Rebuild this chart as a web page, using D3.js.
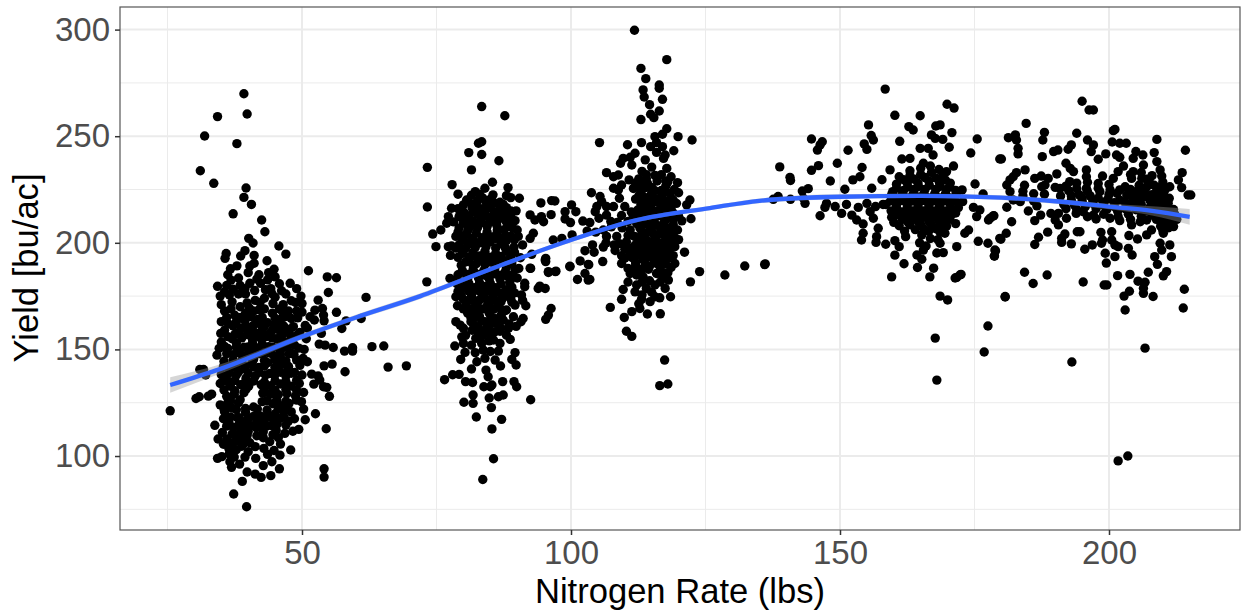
<!DOCTYPE html>
<html>
<head>
<meta charset="utf-8">
<script src="https://cdnjs.cloudflare.com/ajax/libs/d3/7.8.5/d3.min.js"></script>
<style>
  html, body { margin: 0; padding: 0; background: #fff; }
  svg { display: block; font-family: "Liberation Sans", Arial, sans-serif; }
</style>
</head>
<body>
<div id="chart"></div>
<script>
// [rate, yield], one list per application cluster
const field40 = [
  [39.2,269.9],[34.3,259.2],[39.8,260.4],[31.9,250.1],[37.9,246.5],[31.1,233.8],[33.6,227.9],[39.6,225.7],[39.2,221.3],[40.6,218],
  [37.2,213.6],[42.5,210.7],[43.1,205.2],[40.1,202.1],[40.9,199.9],[45.7,198.5],[47,194.7],[35.9,195],[35.7,192.7],[39.4,196.3],
  [38.6,193.8],[41.1,194.1],[43.5,191.6],[41.1,190.4],[40.3,189.1],[37.9,189.2],[36.7,187.8],[44.8,187.6],[51.2,186.9],
  [54.7,184],[56.4,183.6],[54.9,176.7],[61.9,174.4],[49.8,175],[53,173.1],[52.4,168.4],[53.8,169.2],[54,166.1],[54.1,163.4],
  [56.4,167.4],[51.5,165.3],[52.3,163.8],[58.2,163.4],[61,164.5],[57.4,159.8],[53.6,157.5],[53.2,152.5],[54.3,152],[55.8,150.9],
  [57.9,149.2],[59.4,150.8],[59.4,149.2],[63,151.3],[65.2,151.6],[66,141.7],[69.4,142.3],[58,139.5],[54.1,142.3],[55.6,143.1],
  [50.2,145.8],[51,144.2],[51.8,138.4],[53,137.5],[53.3,135.6],[52.2,133.7],[54,132.5],[54.6,132.2],[55.1,128],[52.5,119.8],
  [54.5,112.8],[54.1,94],[54.1,90.1],[38.9,88.1],[37.3,82.2],[39.7,76.2],[25.5,121.2],[30.3,127],[30.9,127.8],[32.6,128.1],
  [33.2,129],[31,140.6],[31.7,140.6],[32.1,138],[34.2,147.3],[33.8,114.4],[34.3,98.9],[35.1,99.7],[36.9,94.7],[36.6,97.3],
  [41.3,91.5],[42.4,90],[44.2,90.8],[45.8,94],[44.4,97.3],[42.8,95.5],[41.4,98.9],[45.9,100.4],[47.9,102.8],[48.3,111.6],
  [46.8,110.6],[45.6,108.6],[44,106.7],[42.8,108.6],[41.6,109.5],[42.9,103.6],[41.3,104.4],[40.3,106.2],
  [36.2,185],[38.2,183.5],[40,186],[42,185],[43.8,186],[45,184],[34.3,179.6],[36,180],[38.5,180],[40.3,181],[42.3,181],[44.2,178.5],
  [47.8,181],[49,178.5],[47,176],[36.5,175.5],[38.2,176],[39.5,176],[45,174.5],[46.5,171],[43,174],[41.3,173],[35,171],[35.6,168],
  [36,165],[38.5,170],[39.5,167],[37.5,166],[41,168],[43,169],[44.5,167],[47.5,168],[49,168],[48,164.5],[50,167.5],[46,164],
  [36.3,162],[35.6,159],[36.2,156],[37.8,163],[38.7,160],[37.5,157],[39.4,163.5],[40.6,160.5],[39.8,157],[41.7,164],[42.5,161],[41.6,157.5],
  [43.6,162.5],[44.5,159],[43.3,156],[45.5,160.5],[46.8,157.8],[45.2,155],[47.7,159.5],[49,156.5],[47,153.5],[48.6,152],[35,153.5],[36.2,150.5],
  [37.8,153],[37.2,147.5],[39.2,151],[39,147],[40.8,153],[41,149],[42.6,152.5],[43,148.5],[44.6,151],[44.8,147],[46,149.5],[47.6,148],
  [48.5,147.7],[46.3,145],[35.5,144.5],[36.5,142],[38,143],[39.4,141],[40.7,144],[42,141.5],[43.6,143.8],[45,141.5],[46.2,143],[47.4,141],
  [48.6,139.2],[47,137.5],[44.9,137.8],[43.2,138],[41.3,137.5],[39.6,136.5],[37.8,138],[36,136],[35,138.2],[34.8,134],[36.7,132.7],[38.6,133.5],
  [40.1,132.8],[42.4,133.5],[44.2,133],[46,133.8],[48,132.8],[49.5,134],[50.3,129.8],[48.8,128.2],[47.2,129.2],[45.6,128.8],[44.1,129],[42.7,129.5],
  [39.2,129.7],[37.4,129],[36,128],[36.2,125],[37,122.5],[35.6,120.8],[38.2,125],[39.5,120.5],[41,123],[42.6,125.5],[44.6,124.5],[46,123.5],
  [47.6,124.7],[49.9,125.5],[50.3,122],[48,120.7],[46.6,118.5],[45,119.8],[43.6,119.5],[42.2,118.8],[41,118.6],[39.6,116.5],[38,118],[36.4,116],
  [37.3,113.5],[35.2,111],[36,108],[37.5,110],[39,112],[40,114],[41.5,113.3],[43.4,114],[45.4,115],[47,114.5],[45.2,112],[38.4,107],[36.9,105.4],[35.4,105.5],
  [37.8,103],[38.8,104.6],[36.5,101],[37.4,99.5],
  [37.2,178.2],[41.2,177.6],[43.2,178],[37,172.3],[39.8,171.8],[42.2,172],[44.6,171.5],[36.8,169],[40.2,169.4],[42,168.6],[45.8,169],[46.4,167.6],
  [38.6,165],[40.5,165.4],[42.6,165],[45,164.6],[46.7,165.2],[49.2,164.8],[37.2,161],[39.6,160.6],[41,161.3],[43,160.8],[44.8,161.2],[46.6,161],[48.4,160.7],[50.6,161.2],
  [38.3,158],[40.6,157.8],[42.6,158.2],[44,157.6],[46,158.2],[47.6,157.8],[49.6,158],[37,155],[38.8,155.4],[40.8,154.8],[42.4,155],[44.4,155.4],[46.2,154.7],[48,155.2],
  [35.6,151.4],[37.8,151],[40,151.2],[41.8,150.7],[43.8,151.3],[45.6,150.8],[47.3,151.2],[49.4,150.6],[36,148],[38.2,148.4],[40,147.8],[42,148],[44,148.3],[46,147.6],[48,148.2],
  [37.2,145],[38.8,144.7],[41,145.3],[43,144.8],[45,145.2],[47,144.6],[49,145],[35.4,142],[37.4,141.6],[39.4,142.3],[41,141.8],[43,142.2],[45,141.7],[47.5,142],
  [36.4,139],[38.2,139.4],[40,138.8],[42,139.2],[44,138.7],[46,139.3],[48,138.8],[36,135],[37.5,135.4],[39.5,134.8],[41,135.2],[43,134.7],[45,135.3],[47,134.9],[49,135.5],
  [35.5,131],[37.5,130.6],[39.6,131.3],[43,131],[45,130.7],[47,131.2],[49,130.8],[36.7,126],[38.5,126.4],[43.5,126],[45.3,126.3],[47,125.7],[49,126.2],
  [35.5,122],[37.8,121.7],[39.5,122.3],[41.7,122],[43.5,121.6],[45.6,122.2],[47.3,121.8],[36.7,118.3],[38.3,118],[40,117.6],[42.6,118],[44.3,118.2],[46,117.7],
  [36,114],[38.4,113.7],[40.6,114.2],[42.4,114],[44.3,114.3],[37,110.3],[38.3,110],[39.8,109.6],[37.2,106.3],[39.2,106],
  [35.6,177],[34.8,175],[36.8,182.5],[39.4,178.5],[41.6,183],[43.6,182.6],[45.8,180.8],[46.2,177.5],[48,172.8],[50,171.5],[48.8,172],[44.4,176.2],[35,163],[34.9,157.5],[34.6,150.5],
  [50.8,155],[51,160],[50.4,150],[49.6,142.5],[50,138],[35.4,117.5],[34.8,124],[34.4,108],[50.6,117],[48.6,117.5],[49.4,112.5],[46,105.6],[44.8,102.6],[43.6,100.8],[40,102],
  [39.4,99.5],[38.4,96.2],[39.8,92.5],[38.4,115.5],[40,111.5],[41.6,116],[43,116.4],[44.8,117],[46.6,121],[47.5,116.5],[42.8,111.4],[44.6,110],[39.5,108.4],[36.4,103.5]
];

const field85 = [
  [83.4,263.9],[87.7,259.6],[83.4,247.4],[82.8,246.7],[81,242.3],[83.4,241.4],[86.6,238.5],[81.5,234.2],[73.3,235.4],[73.3,216.8],
  [77.9,227.3],[79,222.8],[85.4,228.4],[88.3,225.9],[88,222.1],[88.8,221.2],[90.4,220.9],[82.2,224],[84,225.6],[80.6,220.1],
  [80,217.8],[77.8,216.2],[77.2,212.3],[76.9,209.2],[75.8,206],[74.3,204.1],[74.9,198.2],[77.2,198.2],[77.8,198.5],[77.6,194.1],
  [94.4,218.7],[96.4,219.8],[97,219.6],[92.4,213.1],[93.3,210.7],[94.5,212.3],[94.9,209.9],[96.3,213.2],[93,204.5],[92.4,202.1],
  [96.7,201.3],[98.3,202.1],[92.7,194.6],[95.3,192.7],[95.3,191.2],[92.4,188.1],[97.1,186.5],[95.8,186.5],[73.2,181.7],[77.5,183.3],
  [78.6,174.7],[78.9,170.5],[78.6,163],[79.4,161.4],[80,159.9],[79.7,155.9],[80,152.8],[78.4,151.6],[80.3,148.6],[79.5,145.3],
  [76.5,135.8],[78,138.1],[79.2,138.3],[80.4,134.9],[81.7,134.5],[81.8,128.6],[80.1,125.2],[81.8,124.7],[82.4,118.3],[85.2,122.7],
  [87.1,117.2],[85.3,112.7],[85.6,98.7],[83.6,89],[84.8,127.2],[86.5,127.8],[87.4,128.6],[92.5,126.4],[89.9,132.5],[89.4,134.9],
  [87.3,134.9],[83.8,132.5],[85,132.5],[85.3,133.3],[84.6,137.2],[84.2,140.3],[81.5,140.8],[82.5,144.2],[84,145.8],[85.9,145],
  [86.9,142.2],[89.8,142.7],[89,145.3],[89.6,148.5],[83.7,149.7],[83.4,152.8],[88,156.7],[88.7,154.7],[86.8,152.8],[85.6,154.4],
  [82.3,155.2],[85.9,158.3],[84,159.1],[82.8,159.9],[86.1,162.2],[83.4,163.3],[90.7,163],[91.1,164.5],[89.3,165.3],[95.3,164.1],
  [95.8,166.1],[96.3,169.2],[91.6,170.5],[89.6,170.8],[88,168.5],[93.9,178.6],[94.2,179.7],[95.2,178.6],[91.4,181],[90.8,175.5],
  [91.4,179.4],[95.8,186.1],[97.2,186.7],[95.2,191.9],[92.5,188],
  [80.2,214],[82,218],[83.6,221],[85.5,222.5],[86.8,219],[84.4,217],[80.8,211],[82.5,213.5],[86,214.5],[88,216.5],[89.8,215],[87.5,212],
  [79.2,207],[81.2,207.5],[83.4,209.5],[85,210],[88.8,209],[90,206],[78.6,203],[80.2,203.5],[82.4,204.5],[84.4,205],[86.3,206],[87.8,203.5],
  [89.5,201.5],[91,199],[79.2,199],[81,199.5],[83,200],[85,200.5],[87,199.5],[79.8,195],[81.8,195.5],[84,196],[86,195],[88,196],[89.5,195.5],
  [90.6,193],[81,191.5],[83,192],[85,191],[87,191.5],[89,190.5],[90.3,188],[79.8,187],[81.8,187.5],[83.8,187],[85.8,187.5],[87.8,186.5],
  [89.2,185],[78.8,183],[80.8,183],[82.8,183.5],[84.8,183],[86.8,183],[88.6,181.5],[90,183.5],[80,179],[82,179],[84,179.5],[86,179],[88,178],[89.5,176.5],
  [79.6,175.5],[81.5,175],[83.5,175.5],[85.5,175],[87.3,174],[80.5,171],[82.5,171],[84.5,171],[86.5,170.5],[80.8,167],[82.6,167.5],[84.8,167],[87,166],
  [81.4,163],[85,163.5],[81.6,159],[86.8,158.5],[89.8,160.8],[88.5,162],[81.5,152],[82.2,148.5],[85,149],[86.5,149.2],
  [81.5,222.3],[83,222.8],[85,220.4],[81,219.2],[82.6,219.6],[84.2,219],[85.8,218.6],[87.4,218],[79,216],[81.6,216.4],[83.2,216],[85,216.4],[86.8,216],[88.8,215],
  [79.2,212.3],[81,212.6],[84,212.5],[85.5,212.8],[87,213.5],[88.8,212.6],[78.2,209.8],[80,209.5],[81.8,210],[83.2,211],[86.4,210.6],[88,209.8],[89.6,210.4],
  [79,205],[80.8,205.6],[82.6,207],[84.4,207.6],[86.2,208.2],[87.6,206.2],[89.2,206.8],[79.8,201.2],[81.6,202],[83.5,202.4],[85.4,202.6],[87.2,201.6],[88.8,203],[90.2,203],
  [78.6,197.5],[80.4,197.4],[82.2,197.8],[84.2,198.2],[86,197.6],[87.8,197.6],[89.4,198],[79,193.2],[81,193.4],[83,193.8],[85,193.2],[87,193.6],[88.8,193.2],
  [79.6,189.5],[81.8,189.5],[84,189.8],[86,189.2],[88,188.6],[89.6,187.5],[79,185],[80.8,185.2],[83,185.2],[85,185.2],[87,184.8],[88.8,183.5],[78.8,180.8],[81,181],[83,181.2],
  [85,181],[87,180.6],[89,179.2],[79,177.2],[81,177.3],[83,177.4],[85,177.2],[87,176.4],[88.8,173.8],[91,173],[81,173],[83,173.2],[85,173],[87,172.4],[89,172.2],
  [80,169],[81.8,169.2],[83.6,169],[85.6,168.8],[87.6,168],[81.4,165],[83,165.4],[85.2,165],[87.4,163.8],[82,161.5],[84.8,161],[80.4,156.6],[83.6,156.5],[84.8,154],
  [80,213],[82,215],[84,214],[86,212.4],[88,214.2],[80.6,208.6],[82.4,208.8],[84.4,208.2],[86.2,204.2],[88.2,207.6],[80,201.4],[82,200.8],[84,201.6],[86,202],[88,201],[80,196.8],
  [82,194],[84,194.6],[86,193],[88,191.6],[80.4,191],[82.4,190.2],[84.2,192.2],[86.2,190.6],[80.6,184.6],[82,186],[84,184.8],[86,185.4],[88,184.6],[80,181.4],[82,177.6],[84,178],
  [86,177],[88,176],[80,173.4],[82,172.8],[84,174],[86,173],[81,167.5],[83,169],[85,169.8],[87,168.8],[82,165],[84,163],[86,164.4],[88.4,160],[87,160],[83,157.6],[85,157]
];

const field115 = [
  [99.8,188.8],[101.7,191.5],[103.2,189.9],[102.6,196.3],[104,199],[104.3,195.6],[105.9,191.2],[103.8,223.5],[105.4,221.7],[105.7,219.3],
  [104.8,217],[104.5,214.6],[105.2,211.5],[106.6,217],[107.9,217],[106.6,213],[109,220.9],[110,217],[109.4,212.8],[112.4,215.4],
  [98.9,214.6],[98.9,211.2],[100.1,217.8],[100.9,214.6],[99.9,209.5],[102.2,210.2],[103.5,209.5],[100.2,203.7],[101.2,182.8],[102.6,185.6],
  [103.2,182.5],[103.5,182.8],[99.8,189],[103.3,189.7],
  [111.8,299.7],[117.8,285.9],[113,281.8],[113.9,277],[116.4,274],[116.4,272.5],[113.4,271.7],[113.6,268.4],[117,267.3],[114.6,264.8],
  [116.4,261.8],[114.8,260.3],[115.4,258.7],[113,257.8],[117.8,253.5],[117,250.9],[115.6,249.8],[119.9,249.8],[122.5,248.2],[105.3,247],
  [110.5,246],[113.1,247],[114.8,245.1],[115.9,247],[117,245.1],[119.1,243.2],[111.9,242],[115.9,242.4],[117.5,241.2],[117.2,239.6],
  [113.8,238.9],[109.7,239.6],[109.2,237.3],[111,240.1],[111.3,236.5],[106.6,232.9],[108.8,231.8],[107.9,231],[117.8,234.9],[110.8,229.5],
  [107.9,225.6],[108.8,224.8],[109.4,227.1],[119.8,228.2],[120,223.5],[122.1,220.1],[121.5,217.8],[122.3,211.3],[120.6,210.3],[121.1,195.6],
  [123.9,186.5],[119.3,198.2],[122.2,181.7],[118.5,174.7],[116.5,174.2],[117.5,178.6],[109.7,178.1],[109.4,173.5],[107.3,169.7],[109.9,165],
  [111.3,167.7],[112.8,169.2],[113.1,173.5],[114.2,166.6],[116.6,166.7],[110.3,158.5],[111.3,156.1],[117.4,145],[116.5,133],[118,133.8],
  [114.7,172.4],[115.6,174.7],[112.2,180.2],[111.9,177],[114,178.6],[115.6,180.2],[118.1,182.5],[115.9,185.6],[112.2,184.9],[111,185.6],
  [109.4,190.3],[115.9,190.3],[119.3,190.3],
  [113.2,233.5],[115,235.5],[116.8,232],[118.6,231],[112.6,230],[114.2,228],[116,229],[117.6,226.5],[119.2,225],[111.6,225.5],[113,224],[115,223.5],
  [117,222.5],[118.6,221],[112,220.5],[114,219.5],[116,219],[118,218],[119.6,218.5],[113.4,216],[115.2,215],[117.2,214.5],[119,214],[111.5,211.5],
  [113.4,211],[115.4,210.5],[117.4,210],[119,208.5],[112.8,207],[114.8,206.5],[116.8,206],[118.6,204.5],[111.8,203],[113.6,202.5],[115.6,202],[117.6,201.5],
  [112,199],[114,198.5],[116,198],[118,197.5],[120,201.5],[110.3,200.5],[111,195.5],[113,194.5],[115,194],[117,193.5],[119,194],[110,192.8],[112,190.5],
  [113.8,190],[117.5,190],[109.4,194],[108,199],[108.5,203],[106.5,200],[109.5,207],[107.5,207.5],[111.2,214.5],
  [114,232],[117.6,229],[113,227],[115,226],[116.8,224.5],[118.4,223.2],[112.6,222],[114.6,221.4],[116.4,220.8],[118.2,219.6],[113,218],[114.8,217.4],[116.8,216.8],[118.6,216],
  [112.4,213.6],[114.4,213],[116.2,212.6],[118.2,212],[120,212.4],[112.2,209],[114.2,208.6],[116.2,208],[118,206.8],[119.8,206],[111,206],[113.2,205],[115.2,204.4],[117.2,203.8],
  [119.2,202.6],[110.6,203.4],[112.8,200.8],[115,200.2],[117,199.6],[118.8,199.6],[110.4,197.8],[112.4,196.8],[114.4,196.2],[116.4,195.8],[118.2,195.6],
  [111.4,193],[113.4,192.2],[115.4,192],[117.4,191.8],[118.6,188.4],[116.6,187.6],[114.4,187.6],[112.6,187.6],[110.6,188],[113.4,184],[117,184.6],[114.6,182.2],[116.6,181.6],[113.2,181.6],
  [110.6,181.6],[113.2,175.6],[115,176.8],[112.6,171.4],
  [114,230],[115.6,231.6],[112,228],[118,228.6],[113.8,225.8],[115.6,224.4],[117.4,224.2],[113.6,221.4],[115.4,220.6],[117.2,219.8],[119,220],[114,216],[116,214.8],[118,215.6],[113,213],[115.2,212],
  [117.2,212],[119,211],[113.4,208.6],[115.4,208],[117,207.6],[114,204.6],[116,203.8],[118,203],[112.4,202],[114.4,200.6],[116.4,200],[118,199.4],[111.6,198],[113.4,197.4],[115.4,197],[117.4,196.4],
  [112,193.6],[114.4,193.4],[116.4,193],[118,192.6],[112,189],[114.6,189],[116.6,189.6],[118,186],[111.4,186.8],[113,186.6],[110,197],[109,199.6],[108.2,196.4],[106.6,203],[106,206],[107.4,210],
  [108.6,209.6],[110.6,210],[106,198],[104.6,205],[103,205.5]
];

const field165 = [
  [128.6,184.9],[132.3,189.1],[136.1,190.1],[136,189.8],
  [158.4,272.1],[169.9,265],[171.2,263.2],[160.2,259.8],[164.9,259.6],[155.3,255.3],[162.8,254.5],[163.6,252.9],[167.8,254.8],[168.6,255.3],
  [170.8,251.7],[167,250.6],[167.7,249],[169.1,248.5],[175.5,248.7],[155.8,250.3],[156.2,248.2],[144.7,248.7],[146.7,247.4],[146.3,245.9],
  [145.8,243.5],[154.5,246.4],[155,243.8],[151.5,243.4],[161.1,247.6],[164.9,244.3],[166.4,244.3],[170.3,244.8],[174.3,242.1],[179.7,239.3],
  [167.3,241.2],[138.8,235.6],[140.7,230.7],[140.8,229.2],[146,236.2],[144.7,234],[149.5,237.3],[154.1,235.3],[153.7,231],[152.4,229.5],
  [148.2,229],[157.8,229.6],[159.3,234.2],[161.5,239.3],[163,239.6],[165.5,237.3],[171.1,236],[169.8,233.4],[175.1,227.6],[172.7,224.8],
  [144.1,225.4],[143,224.3],[150.9,225.1],[155.9,225.6],[176.6,222.9],[137.6,220.4],[138.5,221.7],[140.8,220.4],[143.5,218.5],[143.2,220.9],
  [147.5,218.5],[147.2,216.6],[146.3,212.7],[149.1,217],[150.3,213.8],[151.2,218],[152.2,213],[153.1,210.7],[153.4,216.6],[155,218.5],
  [155.6,214.6],[156.2,211.5],[154.3,208.8],[154.3,204.5],[154,201.3],[157.1,206.8],[156.8,202.9],[156.7,200.2],[158.5,199.3],[160.2,201],
  [161,198.2],[162.2,202.9],[160.2,194.2],[161.9,190.2],[159.6,184],[164.4,188.4],[167.4,188.1],[166.7,184],[171.7,183.8],[172.5,185.2],
  [164.3,194.3],[165.5,196.6],[165.2,192.3],[168,195.2],[169.2,195.4],[171.7,198.2],[168.6,199.8],[169.5,204.5],[165.2,203.7],[175.7,200.7],
  [177.5,199.8],[178.9,196.2],[178.7,193.8],[179.7,202.1],[173.9,206],[173.2,204.5],[177.6,210.7],[178.6,212.7],[174.8,216.6],[176,215.4],
  [175.4,212.3],[172.8,219.3],[170.4,211],[167.7,155.3],[168,135.6],[168.6,175],[170,173.2],[172.3,184.9],[171.4,183.5],[177.5,161],
  [176.8,148.8],[180.7,174.6],
  [161,231],[163,231.5],[165,232],[167,233],[169,231],[160.5,227.5],[162.5,228],[164.5,228],[166.5,229],[168.5,228],[170.5,228],[159.8,224],
  [161.8,224.5],[163.8,225],[165.8,225],[167.8,225],[169.8,225],[171.5,224.5],[160.5,221],[162.5,221],[164.5,221.5],[166.5,221],[168.5,221],[170.5,221],
  [158.5,218],[160.5,218],[162.5,218],[164.5,218],[166.5,218],[168.5,218],[170.5,218],[172,216.5],[159.5,215],[161.5,214.5],[163.5,215],[165.5,215],
  [167.5,215],[169.5,215],[171.5,214],[159.6,212],[161.6,211],[163.5,211.5],[165.5,212],[167.5,212],[169.5,211.5],[161,208],[163,208.5],[165,208.5],
  [167,208.5],[169,208],[162,205.5],[166.5,205.5],[168.6,205],[166.8,202],[158,218],[156.6,217],[164.8,200],[166,198.5],[168.2,201.5],
  [161.8,229.6],[163.8,229.8],[165.8,230.6],[167.8,230.4],[169.6,229.4],[166.8,236],[168.4,234.4],[165,235],[163,233.8],[160.5,225.6],[162.6,226.2],[164.6,226.4],[166.6,227],[168.6,226.4],
  [170.4,226.4],[159.6,222.6],[161.6,222.8],[163.6,223],[165.6,223.2],[167.6,223],[169.6,223],[171.6,222.6],[159.4,219.6],[161.4,219.8],[163.4,219.6],[165.4,219.8],[167.4,219.6],
  [169.4,219.6],[171.4,219.6],[160.5,216.5],[162.5,216.5],[164.5,216.6],[166.5,216.4],[168.5,216.6],[170.6,216.2],[160.6,213.2],[162.6,213],[164.5,213.4],[166.5,213.4],[168.5,213.2],[170.6,212.8],
  [162.6,209.8],[164.5,210],[166.5,210.2],[168.5,209.8],[160,209.6],[164,206.2],[167.8,206.6],[165.6,206.6],[169.8,207.8],[171.5,209]
];

const field200 = [
  [195,266.4],[196.3,262.3],[197.1,262.3],[184.6,256],[201.1,253.2],[200.8,252.6],[188,251.8],[187.7,248.2],[182.6,250.6],[181.3,249.3],
  [182.8,248.2],[194,251.4],[196,248.2],[197.1,245.9],[196.7,242.8],[200.6,247.3],[202,246.7],[203.2,246.7],[208.9,248.5],[193,245.9],
  [192.4,243.9],[183.1,244.3],[183.1,241.7],[190.5,243.5],[189.7,242.8],[187.6,240.4],[180,239.3],[214.2,243.4],[201.4,241.2],[202,240.1],
  [199.4,241.7],[198,239.2],[205,242.8],[204.5,239.6],[206.3,241.2],[208.4,242.3],[192,237.3],[192.8,234.9],[193.4,233.4],[195.8,234.2],
  [195.8,231],[198.8,231.3],[184.4,234.2],[182.8,232.9],[182.2,231],[181.6,229.5],[181,227.1],[181.6,224],[186.2,230.2],[187.4,231.3],
  [188.7,230.2],[190.3,232.3],[184.3,227],[187.5,226.3],[188.1,227.1],[213.6,232.9],[212.9,229.5],[213.5,225.9],[214.7,222.4],[215.2,222.4],
  [211.3,226.3],[210.4,224.8],[211.2,220.9],[200.8,230.2],[201.7,233.4],[202.7,236],[204.5,233.4],[204.2,230.2],[206.4,236.5],[206.1,230.2],
  [208.9,238.1],[209.5,234.2],[209.8,231.3],
  [190.9,225.5],[192.7,228.7],[194,228],[195.8,225.5],[198.3,224],[200.2,224.8],[203,226.3],[201.5,223.2],[203.3,222.4],[206.4,224.8],[207.6,228],[208.9,224.8],
  [210.1,223.2],[206.4,221.6],[207.6,220],[205.1,220],[192.5,224.5],[194.5,222.5],[196.5,222],[198,221],[199.8,220.5],[202,220],[204,218.5],[206,218],[208,218],
  [209.5,219],[210.5,217],[193,220],[195,219.5],[197,218.5],[199,217.5],[201,217],[203,216],[205,215.5],[207,215],[209,215],[211,214],[212.2,213.5],
  [181,216.7],[178.5,212.6],[177.9,211.5],[181.9,209.9],[185,214.9],[186.6,217.3],[183.5,219.3],[182.2,220.1],[186.2,210.4],[187.3,213],[189.2,213.8],[190.6,213.8],
  [190.6,208.4],[190,210.7],[192.1,211.5],[193.9,213.8],[195.2,214.6],[197.1,213],[197.6,211.2],[200.2,211.5],[201.7,212.3],[204.2,208.4],[205.8,209.9],[207,210.7],
  [208.8,211],[210.5,211],[211.5,209.5],[180.9,204.5],[179.9,201.7],[188.6,205],[186.9,202.6],[186.2,199.2],[191.8,204.1],[191.2,202.1],[191.2,200.2],[193,199.5],
  [194.1,205.2],[194.6,205.2],[196.9,199],[195.5,197],[198.5,204.9],[198.8,201.3],[198.6,199.8],[199.3,195.1],[200.5,205.2],[200.5,201.3],[201.1,199],[201.7,198.2],
  [201.1,193.5],[199.5,190.5],[203.7,203.4],[205.3,201.8],[207,203.7],[207.9,206],[203.6,197.4],[204.3,194.3],[209.5,199.8],[211.3,199],[209.8,196.6],[208.5,193.5],
  [211.6,193.5],[209,189.9],[210,209.2],[210.1,204.5],[207.3,186.2],[210.7,186.5],[210.1,184.5],[203.9,185.2],[201.6,184.6],[205.4,182],[206.7,181.5],[206.4,178.7],
  [206.4,176.3],[203.8,177.3],[199.1,180.2],[199.6,180.2],[195.2,181.6],[184.3,186.2],[185.9,180.9],[188.5,184.9],[180.7,174.8],[208.2,174.8],[214,178.2],[178.8,196.6],
  [178.7,193.8],[193.1,144.1],[206.7,150.6],[201.7,97.7],[203.5,100],[203,168.5],[213.8,169.4],[202.8,175],
  [205.6,227],[207,226.2],[208.4,227],[209.8,226.6],[205,224],[206.6,223.4],[208,222.6],[209.4,222],[204.4,221.6],[205.8,220.8],[207.2,221.6],[208.6,220.4],[210,220],[211,218.6],
  [204.6,217.8],[206,216.4],[207.6,216.6],[209.2,216.8],[210.6,215],[212,215.6],[209.8,212.6],[211.4,212.2],[212.6,211],[209.6,207.8],[211,207],[210,205.8],[212,207.6],
  [190,226],[192,226.6],[194,225.4],[196,224],[198,225.6],[200,222.6],[202,224.8],[204,225],[191,222],[193,222],[195,220.8],[197,220],[199,219],[201,218.8],[203,219],[191.6,218],[193.6,217.6],
  [195.6,217],[197.6,216],[199.6,215.6],[201.6,214.8],[203.6,213.4],[192,216],[194,215.6],[196,212.2],[199,213.4],[202,210.4],[204,211],[206,212.4],[208,213],[184,224.2],[186,223],[188,222.8],
  [186,219.6],[184,222],[204,232],[206,233],[208,231.5],[210,228.5],[207,229.8],[200,227.4],[198,227.8],[196,228.4]
];

const fields = [field40, field85, field115, field165, field200];

// loess line and its band, read at these rates
const fitRate = [25.5, 35, 50, 60, 72, 84.4, 100, 112, 125.8, 135, 150, 165, 180, 190, 200, 208, 215];
const fitYield = [133.3, 141, 156, 165, 175, 187, 201.3, 210.5, 216.3, 219.7, 221.6, 222, 221.2, 219.5, 217, 215, 212.2];
const fitLow = [129.7, 138.8, 154.7, 163.8, 173.7, 185.9, 200.3, 209.5, 215.3, 218.6, 220.4, 221, 220.1, 218.3, 215.7, 212.8, 208.5];
const fitHigh = [136.9, 143.2, 157.3, 166.2, 176.3, 188.1, 202.3, 211.5, 217.3, 220.8, 222.8, 223, 222.3, 220.7, 218.3, 217.2, 215.9];

const xTicks = [50, 100, 150, 200];
const yTicks = [100, 150, 200, 250, 300];
const xMinor = [25, 75, 125, 175];
const yMinor = [75, 125, 175, 225, 275];

const width = 1241, height = 611;
const panel = { left: 120, right: 1240, top: 7, bottom: 530 };

const x = d3.scaleLinear().domain([16.17, 224.35]).range([panel.left, panel.right]);
const y = d3.scaleLinear().domain([65.3, 310.6]).range([panel.bottom, panel.top]);

const svg = d3.select('#chart').append('svg')
  .attr('width', width)
  .attr('height', height);

// Grid
const grid = svg.append('g');
grid.selectAll('.minor-x').data(xMinor).enter().append('line')
  .attr('x1', d => x(d)).attr('x2', d => x(d)).attr('y1', panel.top).attr('y2', panel.bottom)
  .attr('stroke', '#ebebeb').attr('stroke-width', 1);
grid.selectAll('.minor-y').data(yMinor).enter().append('line')
  .attr('x1', panel.left).attr('x2', panel.right).attr('y1', d => y(d)).attr('y2', d => y(d))
  .attr('stroke', '#ebebeb').attr('stroke-width', 1);
grid.selectAll('.major-x').data(xTicks).enter().append('line')
  .attr('x1', d => x(d)).attr('x2', d => x(d)).attr('y1', panel.top).attr('y2', panel.bottom)
  .attr('stroke', '#ebebeb').attr('stroke-width', 2);
grid.selectAll('.major-y').data(yTicks).enter().append('line')
  .attr('x1', panel.left).attr('x2', panel.right).attr('y1', d => y(d)).attr('y2', d => y(d))
  .attr('stroke', '#ebebeb').attr('stroke-width', 2);

// Points
svg.append('g')
  .selectAll('circle')
  .data(fields.flat())
  .enter().append('circle')
  .attr('cx', d => x(d[0]))
  .attr('cy', d => y(d[1]))
  .attr('r', 4.7)
  .attr('fill', '#000');

// Band and fitted line on top of the points
const idx = d3.range(fitRate.length);
svg.append('path')
  .attr('d', d3.area()
    .x(i => x(fitRate[i]))
    .y0(i => y(fitLow[i]))
    .y1(i => y(fitHigh[i]))
    .curve(d3.curveMonotoneX)(idx))
  .attr('fill', '#999999')
  .attr('fill-opacity', 0.4);

svg.append('path')
  .attr('d', d3.line()
    .x(i => x(fitRate[i]))
    .y(i => y(fitYield[i]))
    .curve(d3.curveMonotoneX)(idx))
  .attr('fill', 'none')
  .attr('stroke', '#3366ff')
  .attr('stroke-width', 4.3);

// Panel border
svg.append('rect')
  .attr('x', panel.left).attr('y', panel.top)
  .attr('width', panel.right - panel.left).attr('height', panel.bottom - panel.top)
  .attr('fill', 'none').attr('stroke', '#555').attr('stroke-width', 1.2);

// Axes
const xAxis = svg.append('g')
  .attr('transform', `translate(0,${panel.bottom})`)
  .call(d3.axisBottom(x).tickValues(xTicks).tickSize(5).tickPadding(6));
const yAxis = svg.append('g')
  .attr('transform', `translate(${panel.left},0)`)
  .call(d3.axisLeft(y).tickValues(yTicks).tickSize(5).tickPadding(5));

[xAxis, yAxis].forEach(a => {
  a.select('.domain').remove();
  a.selectAll('.tick line').attr('stroke', '#333').attr('stroke-width', 1.5);
  a.selectAll('.tick text')
    .attr('fill', '#4d4d4d')
    .attr('font-size', 33)
    .attr('font-family', '"Liberation Sans", Arial, sans-serif');
});

// Axis titles
svg.append('text')
  .attr('x', 680).attr('y', 603)
  .attr('text-anchor', 'middle')
  .attr('font-size', 34.6)
  .attr('fill', '#000')
  .text('Nitrogen Rate (lbs)');

svg.append('text')
  .attr('transform', 'translate(38,268) rotate(-90)')
  .attr('text-anchor', 'middle')
  .attr('font-size', 34.6)
  .attr('fill', '#000')
  .text('Yield [bu/ac]');
</script>
</body>
</html>
